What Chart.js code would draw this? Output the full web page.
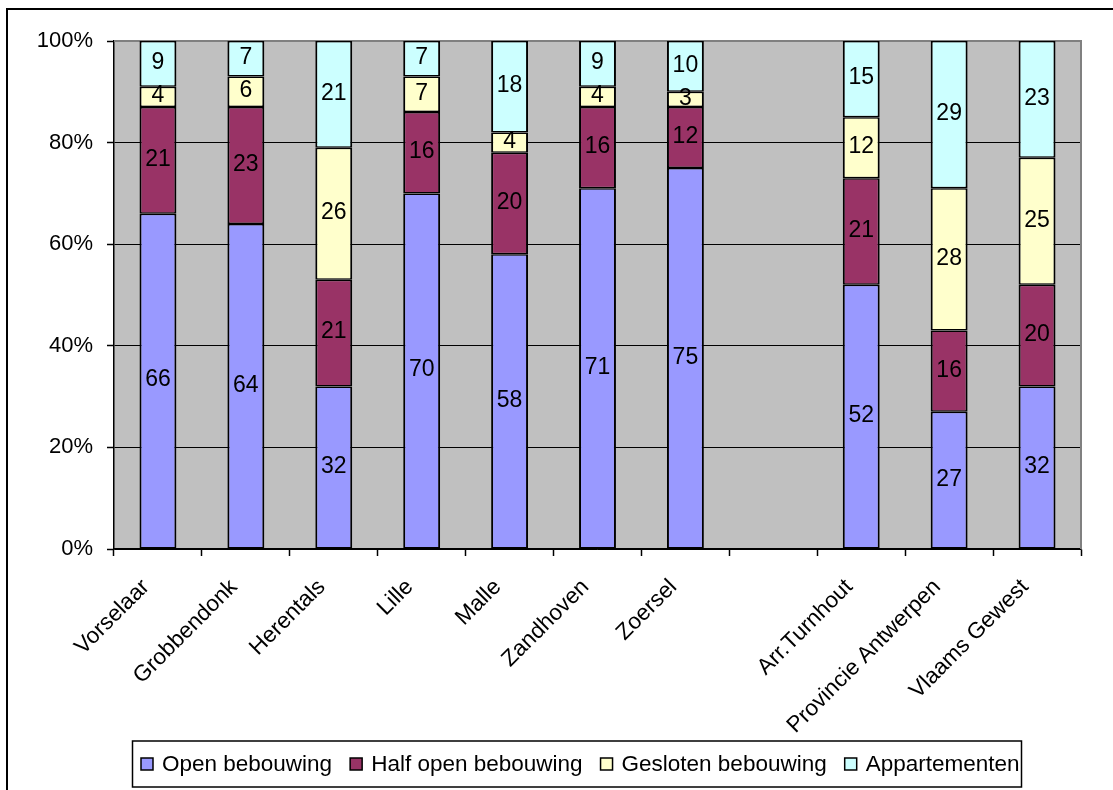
<!DOCTYPE html>
<html>
<head>
<meta charset="utf-8">
<title>Bebouwingstypes per gemeente</title>
<script src="https://cdn.jsdelivr.net/npm/chart.js@4.4.1/dist/chart.umd.min.js"></script>
<style>
  html, body { margin: 0; padding: 0; background: #ffffff; }
  #wrap { width: 1113px; height: 790px; position: relative; }
</style>
</head>
<body>
<div id="wrap"><canvas id="chart" width="1113" height="790"></canvas></div>
<script>
// Categories (an empty slot separates the municipalities from the regional totals)
const categories = ['Vorselaar', 'Grobbendonk', 'Herentals', 'Lille', 'Malle', 'Zandhoven', 'Zoersel', '', 'Arr.Turnhout', 'Provincie Antwerpen', 'Vlaams Gewest'];

// Share of each housing type, in percent
const openBebouwing     = [66, 64, 32, 70, 58, 71, 75, null, 52, 27, 32];
const halfOpenBebouwing = [21, 23, 21, 16, 20, 16, 12, null, 21, 16, 20];
const geslotenBebouwing = [4, 6, 26, 7, 4, 4, 3, null, 12, 28, 25];
const appartementen     = [9, 7, 21, 7, 18, 9, 10, null, 15, 29, 23];

const seriesNames = ['Open bebouwing', 'Half open bebouwing', 'Gesloten bebouwing', 'Appartementen'];
const seriesColors = ['#9999FF', '#993366', '#FFFFCC', '#CCFFFF'];

// Y axis tick values (percent)
const yTicks = [0, 20, 40, 60, 80, 100];

const FONT = '"Liberation Sans", Arial, sans-serif';

// Grey plot background plus its grey frame on top and right
const plotArea = {
  id: 'plotArea',
  beforeDraw(chart) {
    const { ctx, chartArea: a } = chart;
    ctx.save();
    ctx.fillStyle = '#C0C0C0';
    ctx.fillRect(a.left, a.top, a.right - a.left, a.bottom - a.top);
    ctx.restore();
  },
  beforeDatasetsDraw(chart) {
    const { ctx, chartArea: a } = chart;
    ctx.save();
    ctx.strokeStyle = '#808080';
    ctx.lineWidth = 2;
    ctx.beginPath();
    ctx.moveTo(a.left, a.top);
    ctx.lineTo(a.right, a.top);
    ctx.lineTo(a.right, a.bottom);
    ctx.stroke();
    ctx.restore();
  }
};

// Value labels in the middle of every stacked segment
const segmentLabels = {
  id: 'segmentLabels',
  afterDatasetsDraw(chart) {
    const { ctx } = chart;
    ctx.save();
    ctx.font = '23px ' + FONT;
    ctx.fillStyle = '#000';
    ctx.textAlign = 'center';
    ctx.textBaseline = 'middle';
    chart.data.datasets.forEach((ds, i) => {
      const meta = chart.getDatasetMeta(i);
      meta.data.forEach((bar, j) => {
        const v = ds.data[j];
        if (v === null || v === undefined) return;
        ctx.fillText(String(v), bar.x, (bar.y + bar.base) / 2 - 1);
      });
    });
    ctx.restore();
  }
};

// Outer frame and boxed legend below the axis labels
const frameAndLegend = {
  id: 'frameAndLegend',
  afterDraw(chart) {
    const { ctx } = chart;
    ctx.save();
    ctx.strokeStyle = '#000';
    ctx.lineWidth = 2;
    ctx.beginPath();
    ctx.moveTo(7, 800);
    ctx.lineTo(7, 9);
    ctx.lineTo(1120, 9);
    ctx.stroke();

    // legend frame
    ctx.lineWidth = 1.5;
    ctx.strokeRect(132.5, 741, 889, 46);

    ctx.font = '22.5px ' + FONT;
    ctx.textBaseline = 'middle';
    ctx.textAlign = 'left';
    let x = 141;
    const cy = 764;
    chart.data.datasets.forEach((ds) => {
      ctx.fillStyle = ds.backgroundColor;
      ctx.fillRect(x, cy - 6, 12, 12);
      ctx.lineWidth = 1.5;
      ctx.strokeStyle = '#000';
      ctx.strokeRect(x, cy - 6, 12, 12);
      ctx.fillStyle = '#000';
      ctx.fillText(ds.label, x + 21, cy + 1);
      x += 21 + ctx.measureText(ds.label).width + 18;
    });
    ctx.restore();
  }
};

const datasets = [openBebouwing, halfOpenBebouwing, geslotenBebouwing, appartementen].map((d, i) => ({
  label: seriesNames[i],
  data: d,
  backgroundColor: seriesColors[i],
  borderColor: '#000',
  borderWidth: { top: 1.5, bottom: 1.5, left: 2, right: 2 },
  borderSkipped: false,
  barPercentage: 0.42,
  categoryPercentage: 1.0
}));

new Chart(document.getElementById('chart'), {
  type: 'bar',
  data: { labels: categories, datasets },
  plugins: [plotArea, segmentLabels, frameAndLegend],
  options: {
    responsive: false,
    animation: false,
    devicePixelRatio: 1,
    layout: { padding: { left: 0, top: 41, right: 32, bottom: 0 } },
    plugins: {
      legend: { display: false },
      tooltip: { enabled: false },
      title: { display: false }
    },
    scales: {
      x: {
        stacked: true,
        offset: true,
        grid: {
          offset: true,
          drawOnChartArea: false,
          drawTicks: true,
          tickLength: 7,
          tickColor: '#000',
          tickWidth: 1.5
        },
        border: { color: '#000', width: 1.5 },
        ticks: {
          autoSkip: false,
          maxRotation: 45,
          minRotation: 45,
          padding: 18,
          labelOffset: -12,
          color: '#000',
          font: { family: FONT, size: 22.5 }
        },
        afterFit(scale) { scale.height = 241; }
      },
      y: {
        stacked: true,
        min: 0,
        max: 100,
        afterBuildTicks(scale) { scale.ticks = yTicks.map(v => ({ value: v })); },
        grid: {
          color: '#000',
          lineWidth: 1,
          drawTicks: true,
          tickLength: 7,
          tickColor: '#000',
          tickWidth: 1.5
        },
        border: { color: '#000', width: 1.5 },
        ticks: {
          padding: 14,
          color: '#000',
          font: { family: FONT, size: 22 },
          callback: (v) => v + '%'
        },
        afterFit(scale) { scale.width = 114; }
      }
    }
  }
});
</script>
</body>
</html>
